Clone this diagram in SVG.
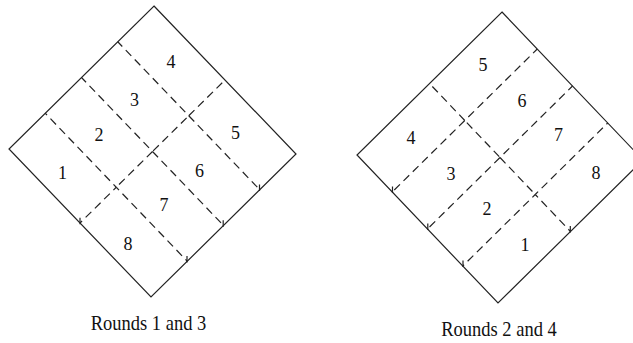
<svg xmlns="http://www.w3.org/2000/svg" width="633" height="343" viewBox="0 0 633 343">
<style>
.edge{fill:none;stroke:#222;stroke-width:1.2;stroke-linejoin:miter}
.dash{fill:none;stroke:#222;stroke-width:1.2;stroke-dasharray:8 5}
.d0{stroke-dashoffset:0}
.d7{stroke-dashoffset:8}
.d9{stroke-dashoffset:10}
.d35{stroke-dashoffset:4}
.tick{fill:none;stroke:#222;stroke-width:1.2}
text{font-family:"Liberation Serif","Times New Roman",serif;fill:#111}
.lbl{font-size:18px;text-anchor:middle}
.cap{font-size:18.5px;text-anchor:middle}
</style>
<rect width="633" height="343" fill="#fff"/>
<g id="rounds13">
  <polygon class="edge" points="154,6 296,154 151,297 9,149"/>
  <g id="grid13">
    <path class="dash d0" d="M188.75,115.75 L259.75,189.75"/>
    <path class="dash d7" d="M188.75,115.75 L117.75,41.75"/>
    <path class="dash d0" d="M152.5,151.5 L223.5,225.5"/>
    <path class="dash d7" d="M152.5,151.5 L81.5,77.5"/>
    <path class="dash d35" d="M116.25,187.25 L187.25,261.25"/>
    <path class="dash d35" d="M116.25,187.25 L45.25,113.25"/>
    <path class="dash d0" d="M188.75,115.75 L225,80"/>
    <path class="dash d9" d="M188.75,115.75 L152.5,151.5"/>
    <path class="dash d0" d="M152.5,151.5 L116.25,187.25"/>
    <path class="dash d35" d="M116.25,187.25 L80,223"/>
    <path class="tick" d="M259.5,184.5 V191 M223.2,220.3 V226.8 M187,256 V262.5 M80,217.8 V224.3"/>
  </g>
  <text class="lbl" x="171" y="68">4</text>
  <text class="lbl" x="134.5" y="105.5">3</text>
  <text class="lbl" x="99" y="141">2</text>
  <text class="lbl" x="62.5" y="178.5">1</text>
  <text class="lbl" x="235.5" y="139">5</text>
  <text class="lbl" x="199.5" y="177">6</text>
  <text class="lbl" x="164" y="211">7</text>
  <text class="lbl" x="128" y="249.5">8</text>
  <text class="cap" transform="translate(148.5,330) scale(1,1.1)">Rounds 1 and 3</text>
</g>
<g id="rounds24">
  <polygon class="edge" points="502,12 643,160 498,303 357,155"/>
  <g id="grid24">
    <path class="dash d0" d="M464.75,120.5 L429.5,83.5"/>
    <path class="dash d9" d="M464.75,120.5 L500,157.5"/>
    <path class="dash d0" d="M500,157.5 L535.25,194.5"/>
    <path class="dash d35" d="M535.25,194.5 L570.5,231.5"/>
    <path class="dash d0" d="M464.75,120.5 L392.25,192"/>
    <path class="dash d7" d="M464.75,120.5 L537.25,49"/>
    <path class="dash d0" d="M500,157.5 L427.5,229"/>
    <path class="dash d7" d="M500,157.5 L572.5,86"/>
    <path class="dash d35" d="M535.25,194.5 L462.75,266"/>
    <path class="dash d35" d="M535.25,194.5 L607.75,123"/>
    <path class="tick" d="M392.5,186.5 V193 M427.8,223.5 V230 M463,260.5 V267 M570.3,226 V232.5"/>
  </g>
  <text class="lbl" x="483" y="70.5">5</text>
  <text class="lbl" x="522" y="107">6</text>
  <text class="lbl" x="558.5" y="141">7</text>
  <text class="lbl" x="596" y="179">8</text>
  <text class="lbl" x="411" y="144">4</text>
  <text class="lbl" x="451" y="179.5">3</text>
  <text class="lbl" x="487" y="214.5">2</text>
  <text class="lbl" x="525" y="250.5">1</text>
  <text class="cap" transform="translate(499,335.5) scale(1,1.1)">Rounds 2 and 4</text>
</g>
</svg>
